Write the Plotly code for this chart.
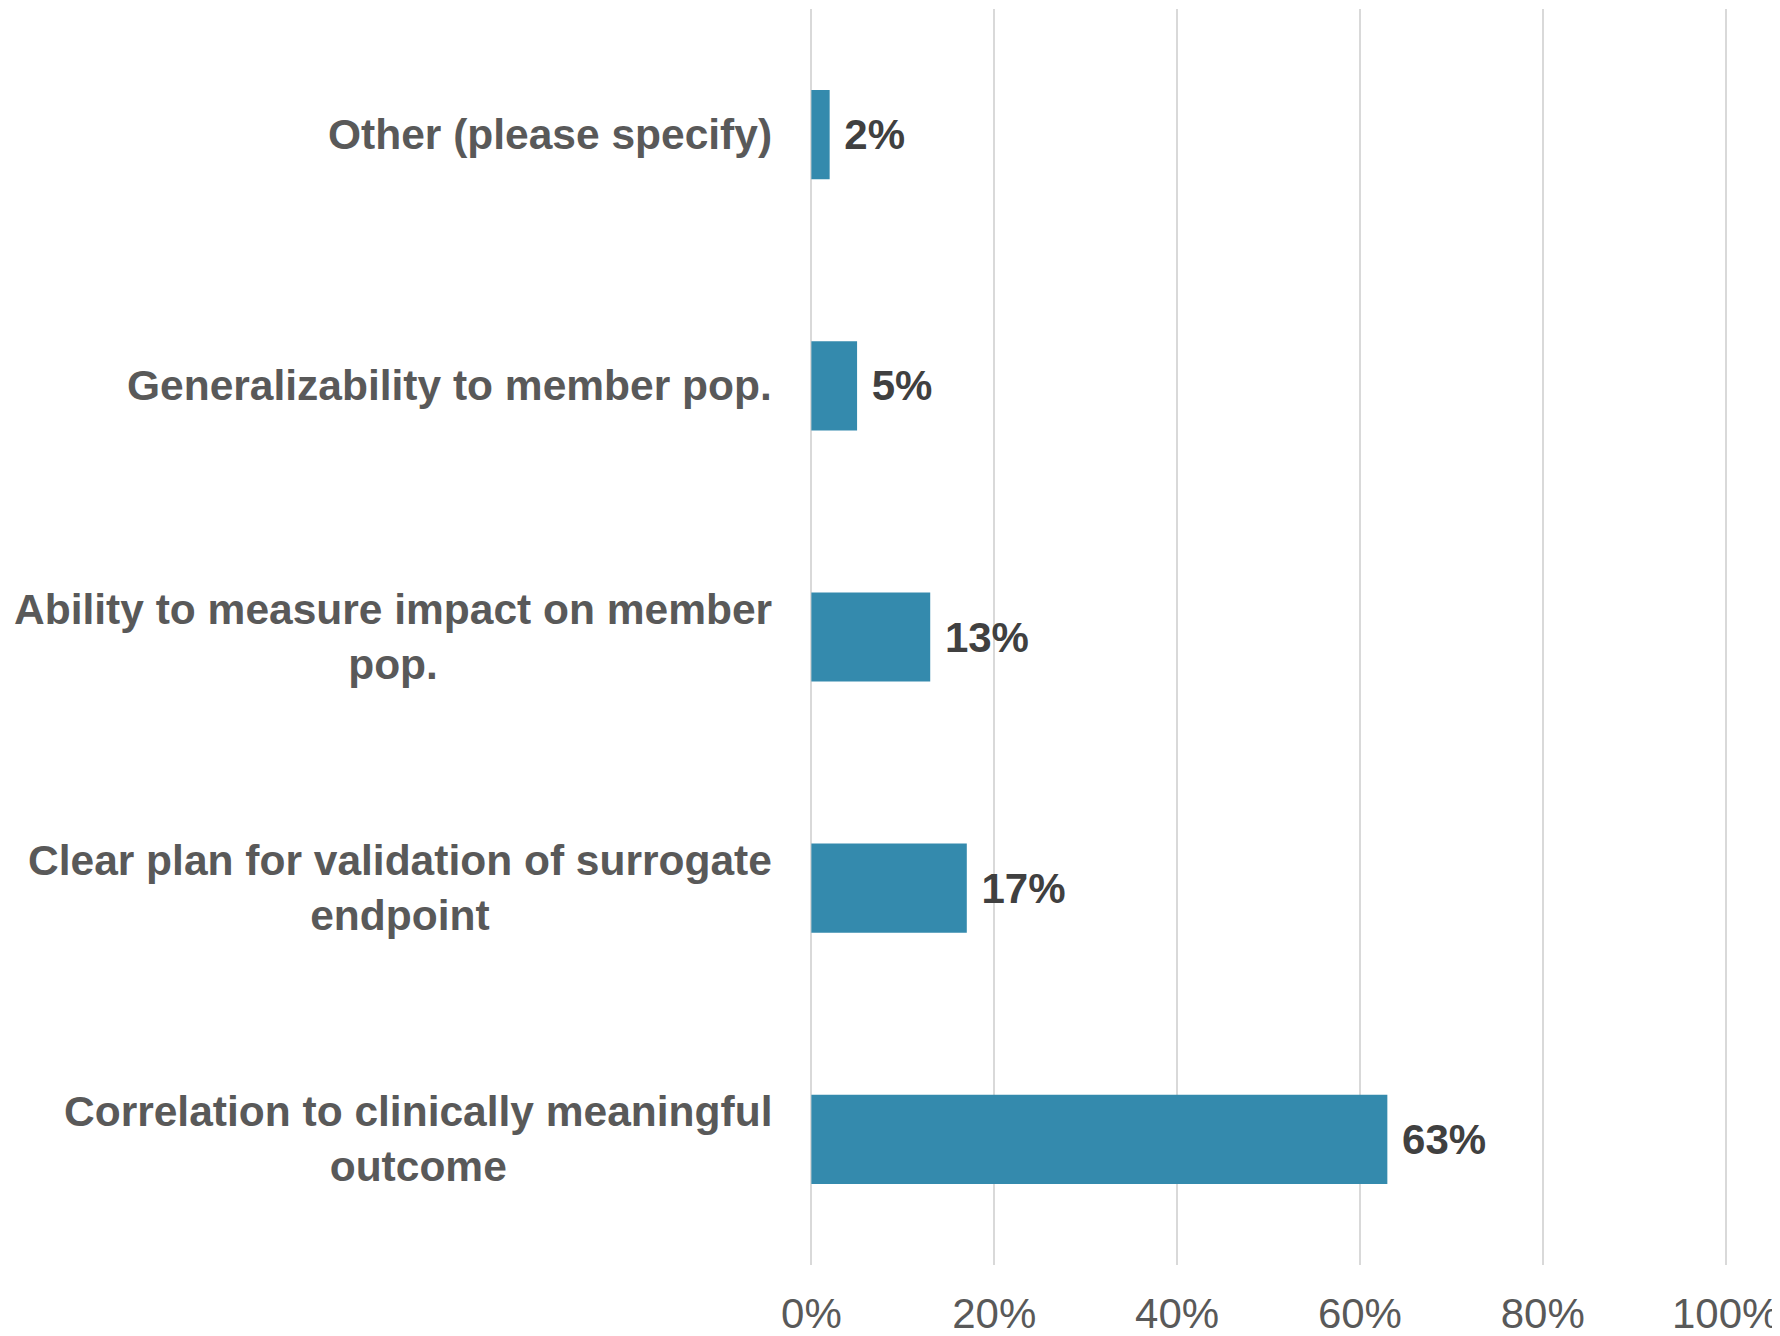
import plotly.graph_objects as go

# survey answers, top to bottom as drawn
categories = [
    "Other (please specify)",
    "Generalizability to member pop.",
    "Ability to measure impact on member<br>pop.",
    "Clear plan for validation of surrogate<br>endpoint",
    "Correlation to clinically meaningful<br>outcome",
]
shares = [0.02, 0.05, 0.13, 0.17, 0.63]
x_ticks = [0, 0.2, 0.4, 0.6, 0.8, 1.0]
x_tick_labels = ["0%", "20%", "40%", "60%", "80%", "100%"]

BAR_COLOR = "#348AAD"
FONT = "Liberation Sans, Arial, sans-serif"

fig = go.Figure(
    go.Bar(
        x=shares,
        y=categories,
        orientation="h",
        width=0.355,
        marker=dict(color=BAR_COLOR, line_width=0),
        texttemplate="\u00a0%{x:.0%}",
        textposition="outside",
        cliponaxis=False,
        textfont=dict(family=FONT, size=42, color="#404040", weight="bold"),
    )
)

# category labels as annotations so wrapped lines stay centred
for cat in categories:
    fig.add_annotation(
        x=0,
        y=cat,
        xref="paper",
        yref="y",
        xanchor="right",
        xshift=-36,
        text=cat,
        align="center",
        showarrow=False,
        font=dict(family=FONT, size=42.5, color="#595959", weight="bold"),
    )

fig.update_xaxes(
    range=[-0.0015, 1.0015],
    tickvals=x_ticks,
    ticktext=x_tick_labels,
    showgrid=True,
    gridcolor="#d9d9d9",
    gridwidth=2,
    zeroline=False,
    showline=False,
    automargin=False,
    ticklabelstandoff=20,
    tickfont=dict(family=FONT, size=42, color="#595959"),
)
fig.update_yaxes(
    categoryorder="array",
    categoryarray=categories[::-1],
    showticklabels=False,
    showgrid=False,
    zeroline=False,
    showline=False,
    automargin=False,
)
fig.update_layout(
    width=1772,
    height=1328,
    plot_bgcolor="white",
    paper_bgcolor="white",
    showlegend=False,
    margin=dict(l=802, r=53, t=1, b=71),
    bargap=0.645,
)

fig.write_html("out.html")
